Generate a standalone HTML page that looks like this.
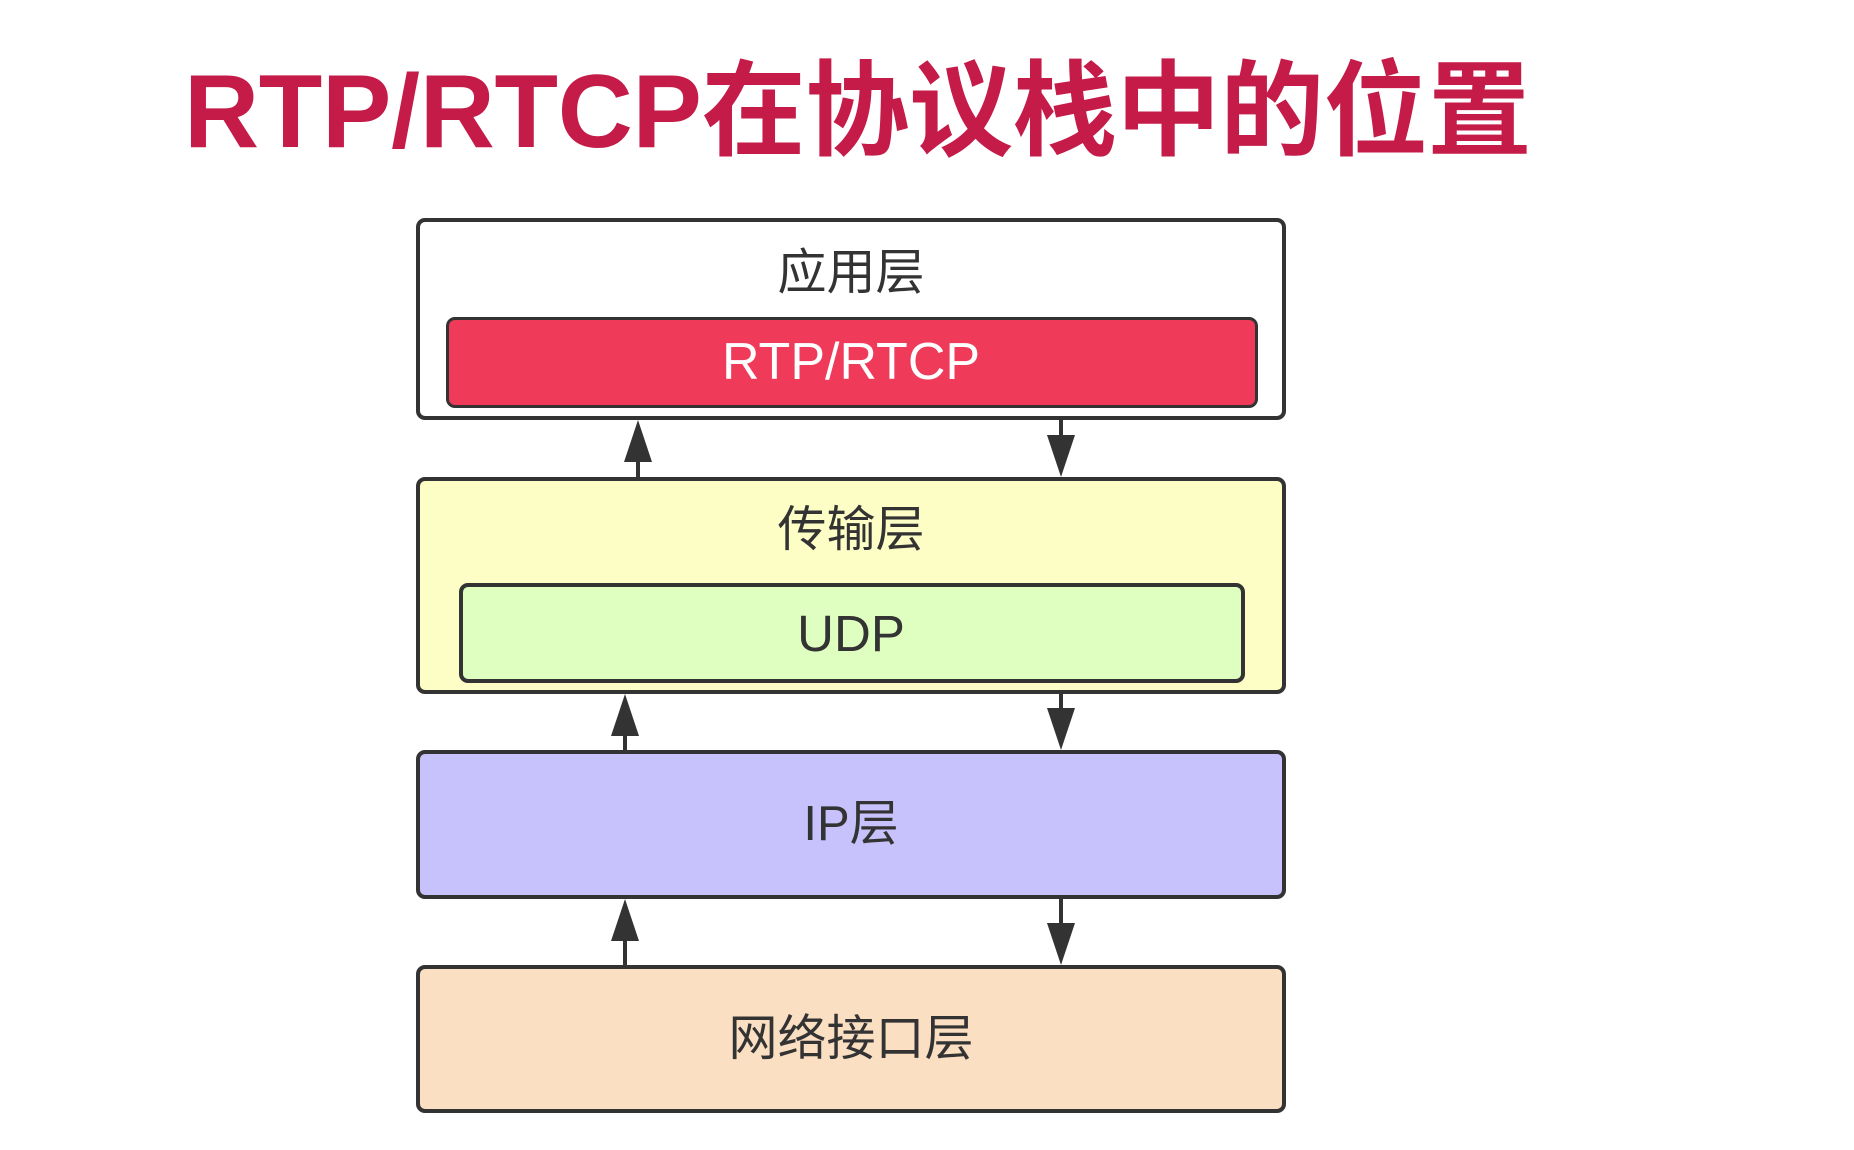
<!DOCTYPE html>
<html><head><meta charset="utf-8"><style>
body{margin:0;width:1854px;height:1150px;background:#fff;overflow:hidden;position:relative;font-family:"Liberation Sans","Noto Sans CJK SC",sans-serif}
.t{position:absolute;left:184px;top:47px;font-size:104px;font-weight:bold;color:#c51b48;white-space:nowrap;line-height:130px;letter-spacing:-0.3px}
.b{position:absolute;box-sizing:border-box;border:4px solid #333;border-radius:9px}
.l{position:absolute;left:416px;width:870px;text-align:center;font-size:49px;color:#333;line-height:60px}
</style></head><body>
<div class="t">RTP/RTCP在协议栈中的位置</div>
<div class="b" style="left:416px;top:218px;width:870px;height:202px;background:#fff"></div>
<div class="b" style="left:446px;top:317px;width:812px;height:91px;background:#ef3a5a;border-width:3px"></div>
<div class="b" style="left:416px;top:477px;width:870px;height:217px;background:#fdfdc6"></div>
<div class="b" style="left:459px;top:583px;width:786px;height:100px;background:#dfffc0"></div>
<div class="b" style="left:416px;top:750px;width:870px;height:149px;background:#c7c2fb"></div>
<div class="b" style="left:416px;top:965px;width:870px;height:148px;background:#fbdfc3"></div>
<div class="l" style="top:243px">应用层</div>
<div class="l" style="top:332px;color:#fff;font-size:52px">RTP/RTCP</div>
<div class="l" style="top:500px">传输层</div>
<div class="l" style="top:604px;font-size:51px">UDP</div>
<div class="l" style="top:794px">IP层</div>
<div class="l" style="top:1009px">网络接口层</div>
<svg width="1854" height="1150" style="position:absolute;left:0;top:0" fill="#333" stroke="#333" stroke-width="4">
<line x1="638" y1="477" x2="638" y2="440"/><polygon points="624,462 652,462 638,420" stroke="none"/>
<line x1="1061" y1="420" x2="1061" y2="455"/><polygon points="1047,435 1075,435 1061,477" stroke="none"/>
<line x1="625" y1="750" x2="625" y2="712"/><polygon points="611,736 639,736 625,694" stroke="none"/>
<line x1="1061" y1="694" x2="1061" y2="728"/><polygon points="1047,708 1075,708 1061,750" stroke="none"/>
<line x1="625" y1="965" x2="625" y2="918"/><polygon points="611,941 639,941 625,899" stroke="none"/>
<line x1="1061" y1="899" x2="1061" y2="943"/><polygon points="1047,923 1075,923 1061,965" stroke="none"/>
</svg>
</body></html>
